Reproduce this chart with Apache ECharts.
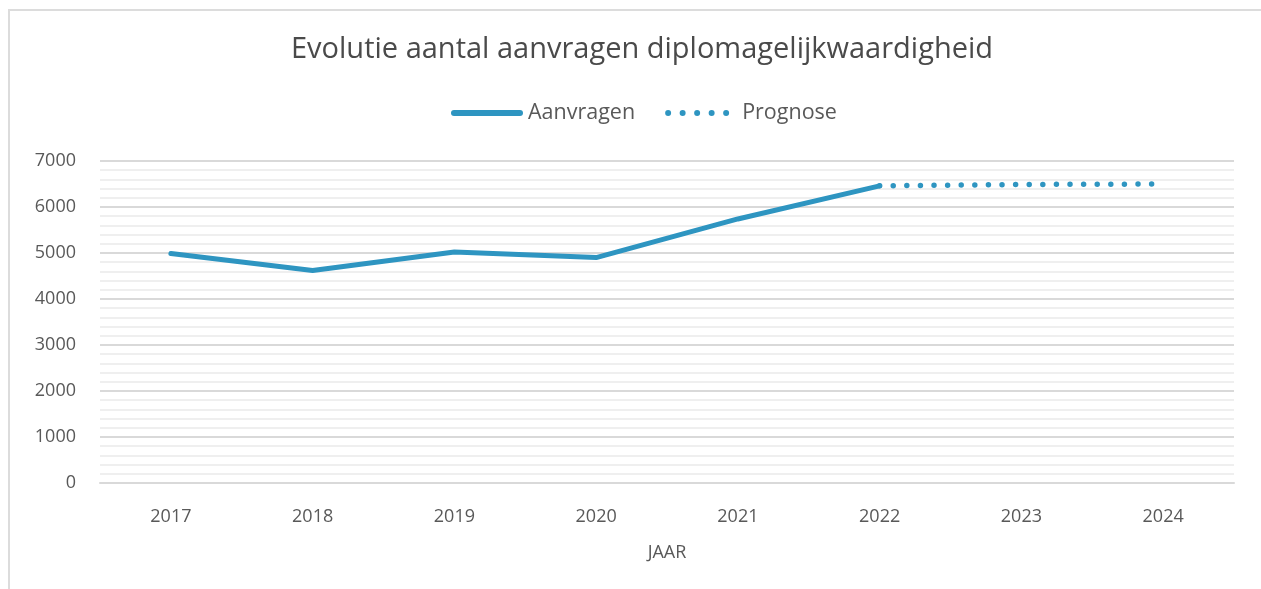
<!DOCTYPE html>
<html><head><meta charset="utf-8">
<script src="https://cdn.jsdelivr.net/npm/echarts@6/dist/echarts.min.js"></script>
<style>
html,body{margin:0;padding:0;background:#fff;}
#frame{position:absolute;left:8px;top:9px;right:0;bottom:0;border-top:2px solid #dcdcdc;border-left:2px solid #dcdcdc;}
#c{position:absolute;left:0;top:0;width:1261px;height:589px;}
</style></head>
<body>
<div id="frame"></div>
<div id="c"></div>
<script>
const categories = ['2017','2018','2019','2020','2021','2022','2023','2024'];
const aanvragen = [4990, 4620, 5020, 4900, 5740, 6460, null, null];
const prognose = [null, null, null, null, null, 6460, 6490, 6500];
const FONT = '"Open Sans", "Noto Sans", sans-serif';
const BLUE = '#2e95c1';

function circle(cx, cy, r) {
  return 'M' + (cx - r) + ',' + cy + ' A' + r + ',' + r + ' 0 1 0 ' + (cx + r) + ',' + cy +
         ' A' + r + ',' + r + ' 0 1 0 ' + (cx - r) + ',' + cy + ' Z ';
}
let dotPath = '';
for (let i = 0; i < 5; i++) dotPath += circle(3 + 14.5 * i, 3, 3);
dotPath += circle(0.0, 3, 0.001) + circle(71.999, 3, 0.001);
const solidPath = 'M3,0 L69,0 A3,3 0 0 1 69,6 L3,6 A3,3 0 0 1 3,0 Z';

const chart = echarts.init(document.getElementById('c'));
chart.setOption({
  animation: false,
  title: {
    text: 'Evolutie aantal aanvragen diplomagelijkwaardigheid',
    left: 286, top: 30,
    textStyle: {fontFamily: FONT, fontSize: 29, fontWeight: 'normal', color: '#4a4a4a'}
  },
  legend: {
    top: 97, left: 446,
    itemWidth: 72, itemHeight: 6, itemGap: 30,
    textStyle: {fontFamily: FONT, fontSize: 21.5, color: '#595959'},
    data: [
      {name: 'Aanvragen', icon: 'path://' + solidPath},
      {name: 'Prognose', icon: 'path://' + dotPath}
    ]
  },
  grid: {left: 100, right: 27, top: 161, bottom: 106, containLabel: false},
  xAxis: {
    type: 'category', data: categories, boundaryGap: true,
    name: 'JAAR', nameLocation: 'middle', nameGap: 61,
    nameTextStyle: {fontFamily: FONT, fontSize: 18, color: '#595959'},
    axisLine: {lineStyle: {color: '#d9d9d9', width: 2}},
    axisTick: {show: false},
    axisLabel: {fontFamily: FONT, fontSize: 18, color: '#595959', margin: 25}
  },
  yAxis: {
    type: 'value', min: 0, max: 7000, interval: 1000,
    axisLine: {show: false}, axisTick: {show: false},
    axisLabel: {fontFamily: FONT, fontSize: 18, color: '#595959', margin: 24,
                formatter: function (v) { return String(v); }},
    splitLine: {lineStyle: {color: '#d9d9d9', width: 2}},
    minorTick: {show: false, splitNumber: 5},
    minorSplitLine: {show: true, lineStyle: {color: '#efefef', width: 2}}
  },
  series: [
    {
      name: 'Aanvragen', type: 'line', data: aanvragen,
      symbol: 'none', connectNulls: false,
      itemStyle: {color: BLUE},
      lineStyle: {color: BLUE, width: 5, cap: 'round', join: 'round'}
    },
    {
      name: 'Prognose', type: 'line', data: prognose,
      symbol: 'none',
      itemStyle: {color: BLUE},
      lineStyle: {color: BLUE, width: 5.5, type: [0, 13.6], cap: 'round'}
    }
  ]
});
</script>
</body></html>
